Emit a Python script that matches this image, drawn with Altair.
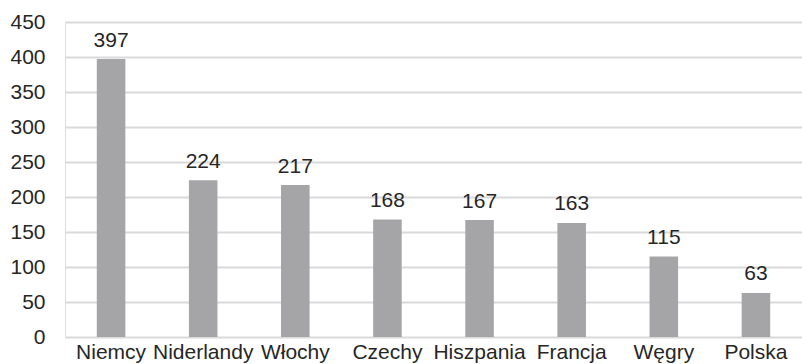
import altair as alt
import pandas as pd

countries = ["Niemcy", "Niderlandy", "Włochy", "Czechy", "Hiszpania", "Francja", "Węgry", "Polska"]
values = [397, 224, 217, 168, 167, 163, 115, 63]

df = pd.DataFrame({"kraj": countries, "wartosc": values})

FONT = "Liberation Sans"
TEXT = "#262626"
SIZE = 21

x = alt.X(
    "kraj:N",
    sort=countries,
    title=None,
    scale=alt.Scale(paddingInner=0.69, paddingOuter=0.345),
    axis=alt.Axis(
        labelAngle=0,
        labelFont=FONT,
        labelFontSize=SIZE,
        labelColor=TEXT,
        labelPadding=4,
        labelOverlap=False,
        ticks=False,
        domain=False,
        grid=False,
    ),
)
y = alt.Y(
    "wartosc:Q",
    title=None,
    scale=alt.Scale(domain=[0, 450], nice=False),
    axis=alt.Axis(
        values=list(range(0, 451, 50)),
        labelFont=FONT,
        labelFontSize=SIZE,
        labelColor=TEXT,
        labelPadding=20,
        labelOverlap=False,
        labelBound=False,
        labelFlush=False,
        ticks=False,
        domain=False,
        gridColor="#d9d9d9",
        gridWidth=2,
    ),
)

bars = alt.Chart(df).mark_bar(color="#a5a5a7").encode(x=x, y=y)
labels = alt.Chart(df).mark_text(
    baseline="alphabetic", dy=-12.5, font=FONT, fontSize=SIZE, color=TEXT
).encode(x=x, y=y, text="wartosc:Q")

chart = (
    alt.layer(bars, labels)
    .properties(
        width=737,
        height=315,
        autosize=alt.AutoSizeParams(type="none"),
        padding={"left": 65, "top": 22, "right": 0, "bottom": 27},
    )
    .configure_view(stroke=None)
    .configure(background="white")
)

chart.save("out.html", embed_options={"renderer": "svg", "actions": False})
